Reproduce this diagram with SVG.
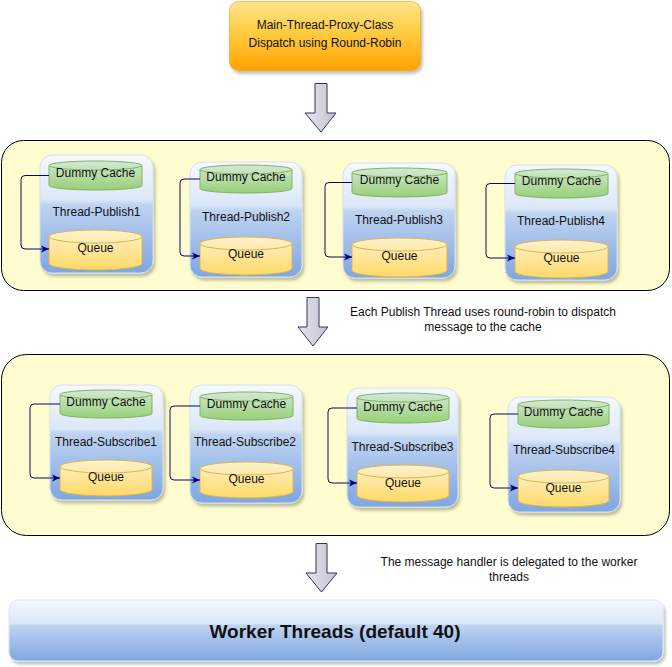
<svg xmlns="http://www.w3.org/2000/svg" width="672" height="667" viewBox="0 0 672 667">
<defs>
<linearGradient id="gOrange" x1="0" y1="0" x2="0" y2="1">
<stop offset="0" stop-color="#ffe48e"/><stop offset="0.45" stop-color="#ffcc40"/><stop offset="1" stop-color="#ffa200"/>
</linearGradient>
<linearGradient id="gBlue" x1="0" y1="0" x2="0" y2="1">
<stop offset="0" stop-color="#f6f9fd"/><stop offset="0.38" stop-color="#dbe7f8"/><stop offset="0.42" stop-color="#bfd3f1"/><stop offset="1" stop-color="#7ea6e0"/>
</linearGradient>
<linearGradient id="gGreen" x1="0" y1="0" x2="0" y2="1">
<stop offset="0" stop-color="#d5e8d4"/><stop offset="1" stop-color="#97d077"/>
</linearGradient>
<linearGradient id="gYellow" x1="0" y1="0" x2="0" y2="1">
<stop offset="0" stop-color="#fff2cc"/><stop offset="1" stop-color="#ffd966"/>
</linearGradient>
<linearGradient id="gArrow" x1="0" y1="0" x2="1" y2="0">
<stop offset="0" stop-color="#e4e4ec"/><stop offset="1" stop-color="#c4c4d0"/>
</linearGradient>
<filter id="shadow" x="-10%" y="-10%" width="130%" height="130%">
<feDropShadow dx="2" dy="3" stdDeviation="1.5" flood-color="#000" flood-opacity="0.25"/>
</filter>
<marker id="ah" markerWidth="9" markerHeight="8" refX="8" refY="4" orient="auto" markerUnits="userSpaceOnUse">
<path d="M0,0.5 L8,4 L0,7.5 L2,4 Z" fill="#000080"/>
</marker>
</defs>
<style>
text{font-family:"Liberation Sans",Arial,sans-serif;fill:#111;}
.t12{font-size:12px;text-anchor:middle;}
.cont{fill:#fffdcf;stroke:#000;stroke-width:1;}
.thr{fill:url(#gBlue);stroke:#d3e0f2;stroke-width:1;filter:url(#shadow);}
.cache{fill:url(#gGreen);stroke:#82b366;stroke-width:1;}
.queue{fill:url(#gYellow);stroke:#d6b656;stroke-width:1;}
.lid{fill:none;stroke-width:1;}
.barrow{fill:url(#gArrow);stroke:#33335e;stroke-width:1;}
.conn{fill:none;stroke:#0a0a5c;stroke-width:1;marker-end:url(#ah);}
</style>

<g id="main-proxy">
<rect x="229.5" y="1.5" width="191" height="69" rx="9" fill="url(#gOrange)" stroke="#eaa200" stroke-width="0.6" filter="url(#shadow)"/>
<text class="t12" x="325" y="29">Main-Thread-Proxy-Class</text>
<text class="t12" x="325" y="47">Dispatch using Round-Robin</text>
</g>

<g id="publish-container">
<rect class="cont" x="1.5" y="140.5" width="668" height="150" rx="22"/>
</g>
<g id="subscribe-container">
<rect class="cont" x="1.5" y="354.5" width="668" height="181" rx="25"/>
</g>

<g id="thread-publish1">
<rect class="thr" x="40" y="155" width="113" height="118" rx="12"/>
<path class="cache" d="M49,165.5 A46.5,4.5 0 0 1 142,165.5 V185.5 A46.5,4.5 0 0 1 49,185.5 Z"/>
<path class="lid" stroke="#82b366" d="M49,165.5 A46.5,4.5 0 0 0 142,165.5"/>
<text class="t12" x="95.5" y="177">Dummy Cache</text>
<text class="t12" x="96.5" y="216">Thread-Publish1</text>
<path class="queue" d="M49,236.5 A46.5,6.5 0 0 1 142,236.5 V263.5 A46.5,6.5 0 0 1 49,263.5 Z"/>
<path class="lid" stroke="#d6b656" d="M49,236.5 A46.5,6.5 0 0 0 142,236.5"/>
<text class="t12" x="95.5" y="252">Queue</text>
</g>

<g id="thread-publish2">
<rect class="thr" x="190" y="162" width="112" height="115" rx="12"/>
<path class="cache" d="M200,169.5 A46,4.5 0 0 1 292,169.5 V188.5 A46,4.5 0 0 1 200,188.5 Z"/>
<path class="lid" stroke="#82b366" d="M200,169.5 A46,4.5 0 0 0 292,169.5"/>
<text class="t12" x="246" y="181">Dummy Cache</text>
<text class="t12" x="246" y="221">Thread-Publish2</text>
<path class="queue" d="M200,243.5 A46,6.5 0 0 1 292,243.5 V268.5 A46,6.5 0 0 1 200,268.5 Z"/>
<path class="lid" stroke="#d6b656" d="M200,243.5 A46,6.5 0 0 0 292,243.5"/>
<text class="t12" x="246" y="258">Queue</text>
</g>

<g id="thread-publish3">
<rect class="thr" x="343" y="163" width="112" height="115" rx="12"/>
<path class="cache" d="M352,172.5 A47.5,4.5 0 0 1 447,172.5 V192.5 A47.5,4.5 0 0 1 352,192.5 Z"/>
<path class="lid" stroke="#82b366" d="M352,172.5 A47.5,4.5 0 0 0 447,172.5"/>
<text class="t12" x="399.5" y="184">Dummy Cache</text>
<text class="t12" x="399" y="224">Thread-Publish3</text>
<path class="queue" d="M352,244.5 A47.5,6.5 0 0 1 447,244.5 V270.5 A47.5,6.5 0 0 1 352,270.5 Z"/>
<path class="lid" stroke="#d6b656" d="M352,244.5 A47.5,6.5 0 0 0 447,244.5"/>
<text class="t12" x="399.5" y="260">Queue</text>
</g>

<g id="thread-publish4">
<rect class="thr" x="505" y="165" width="112" height="115" rx="12"/>
<path class="cache" d="M515,173.5 A46.5,4.5 0 0 1 608,173.5 V193.5 A46.5,4.5 0 0 1 515,193.5 Z"/>
<path class="lid" stroke="#82b366" d="M515,173.5 A46.5,4.5 0 0 0 608,173.5"/>
<text class="t12" x="561.5" y="185">Dummy Cache</text>
<text class="t12" x="561" y="225">Thread-Publish4</text>
<path class="queue" d="M515,246.5 A46.5,6.5 0 0 1 608,246.5 V271.5 A46.5,6.5 0 0 1 515,271.5 Z"/>
<path class="lid" stroke="#d6b656" d="M515,246.5 A46.5,6.5 0 0 0 608,246.5"/>
<text class="t12" x="561.5" y="262">Queue</text>
</g>

<g id="thread-subscribe1">
<rect class="thr" x="50" y="385" width="113" height="115" rx="12"/>
<path class="cache" d="M60,394.5 A46,4.5 0 0 1 152,394.5 V413.5 A46,4.5 0 0 1 60,413.5 Z"/>
<path class="lid" stroke="#82b366" d="M60,394.5 A46,4.5 0 0 0 152,394.5"/>
<text class="t12" x="106" y="406">Dummy Cache</text>
<text class="t12" x="106" y="446">Thread-Subscribe1</text>
<path class="queue" d="M60,466.5 A46,6.5 0 0 1 152,466.5 V489.5 A46,6.5 0 0 1 60,489.5 Z"/>
<path class="lid" stroke="#d6b656" d="M60,466.5 A46,6.5 0 0 0 152,466.5"/>
<text class="t12" x="106" y="481">Queue</text>
</g>

<g id="thread-subscribe2">
<rect class="thr" x="190" y="385" width="112" height="118" rx="12"/>
<path class="cache" d="M200,396.5 A46.5,4.5 0 0 1 293,396.5 V415.5 A46.5,4.5 0 0 1 200,415.5 Z"/>
<path class="lid" stroke="#82b366" d="M200,396.5 A46.5,4.5 0 0 0 293,396.5"/>
<text class="t12" x="246.5" y="408">Dummy Cache</text>
<text class="t12" x="245" y="446">Thread-Subscribe2</text>
<path class="queue" d="M200,468.5 A46.5,6.5 0 0 1 293,468.5 V491.5 A46.5,6.5 0 0 1 200,491.5 Z"/>
<path class="lid" stroke="#d6b656" d="M200,468.5 A46.5,6.5 0 0 0 293,468.5"/>
<text class="t12" x="246.5" y="483">Queue</text>
</g>

<g id="thread-subscribe3">
<rect class="thr" x="347" y="388" width="111" height="119" rx="12"/>
<path class="cache" d="M357,397.5 A46,4.5 0 0 1 449,397.5 V418.5 A46,4.5 0 0 1 357,418.5 Z"/>
<path class="lid" stroke="#82b366" d="M357,397.5 A46,4.5 0 0 0 449,397.5"/>
<text class="t12" x="403" y="411">Dummy Cache</text>
<text class="t12" x="402.5" y="451">Thread-Subscribe3</text>
<path class="queue" d="M357,471.5 A46,6.5 0 0 1 449,471.5 V495.5 A46,6.5 0 0 1 357,495.5 Z"/>
<path class="lid" stroke="#d6b656" d="M357,471.5 A46,6.5 0 0 0 449,471.5"/>
<text class="t12" x="403" y="487">Queue</text>
</g>

<g id="thread-subscribe4">
<rect class="thr" x="508" y="397" width="112" height="115" rx="12"/>
<path class="cache" d="M518,404.5 A45.5,4.5 0 0 1 609,404.5 V423.5 A45.5,4.5 0 0 1 518,423.5 Z"/>
<path class="lid" stroke="#82b366" d="M518,404.5 A45.5,4.5 0 0 0 609,404.5"/>
<text class="t12" x="563.5" y="416">Dummy Cache</text>
<text class="t12" x="564" y="454">Thread-Subscribe4</text>
<path class="queue" d="M518,476.5 A45.5,6.5 0 0 1 609,476.5 V500.5 A45.5,6.5 0 0 1 518,500.5 Z"/>
<path class="lid" stroke="#d6b656" d="M518,476.5 A45.5,6.5 0 0 0 609,476.5"/>
<text class="t12" x="563.5" y="492">Queue</text>
</g>

<g id="worker-threads">
<rect x="9" y="600" width="654" height="61" rx="9" fill="url(#gBlue)" stroke="#dce6f4" stroke-width="1" filter="url(#shadow)"/>
<text x="335" y="638" style="font-size:19px;font-weight:bold;text-anchor:middle;">Worker Threads (default 40)</text>
</g>

<g id="notes">
<text class="t12" x="483" y="316">Each Publish Thread uses round-robin to dispatch</text>
<text class="t12" x="483" y="331">message to the cache</text>
<text class="t12" x="509" y="566">The message handler is delegated to the worker</text>
<text class="t12" x="509" y="581">threads</text>
</g>

<g id="connectors">
<path class="barrow" d="M315,83.5 H327 V113 H336 L321,132 L305,113 H315 Z"/>
<path class="barrow" d="M307,297.5 H319 V327 H328 L313,346 L298,327 H307 Z"/>
<path class="barrow" d="M316,543.5 H327 V573 H337 L321.5,592 L306,573 H316 Z"/>
<path class="conn" d="M49,175.5 H25 Q21,175.5 21,179.5 V245 Q21,249 25,249 H49"/>
<path class="conn" d="M200,179 H184 Q180,179 180,183 V252 Q180,256 184,256 H200"/>
<path class="conn" d="M352,182.5 H329 Q325,182.5 325,186.5 V253 Q325,257 329,257 H352"/>
<path class="conn" d="M515,183.5 H490 Q486,183.5 486,187.5 V254 Q486,258 490,258 H515"/>
<path class="conn" d="M60,404 H34 Q30,404 30,408 V474 Q30,478 34,478 H60"/>
<path class="conn" d="M200,406 H174 Q170,406 170,410 V476 Q170,480 174,480 H200"/>
<path class="conn" d="M357,408 H332 Q328,408 328,412 V479 Q328,483 332,483 H357"/>
<path class="conn" d="M518,414 H494 Q490,414 490,418 V484 Q490,488 494,488 H518"/>
</g>
</svg>
